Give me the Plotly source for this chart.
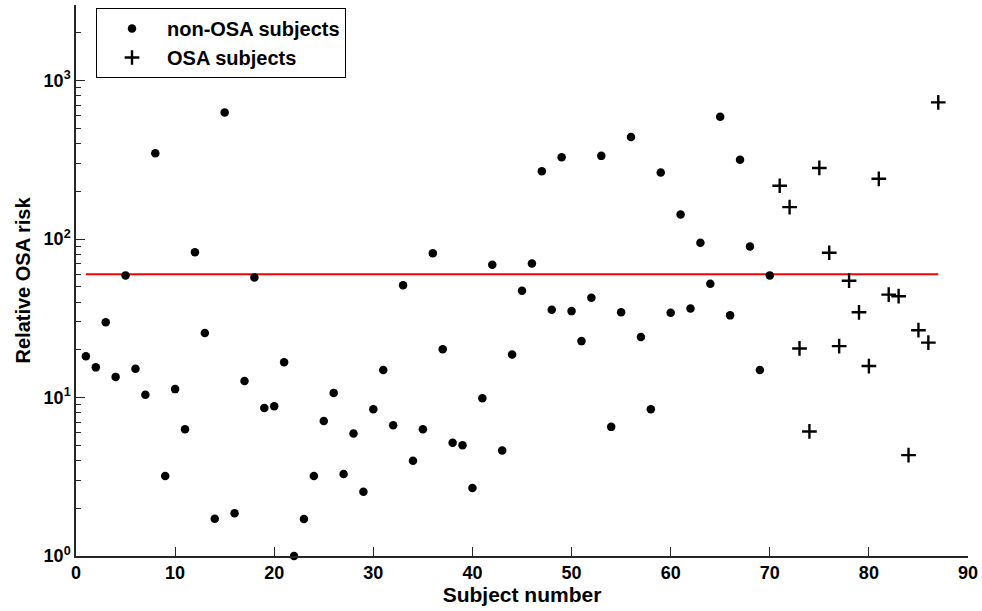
import plotly.graph_objects as go
import numpy as np

# ---- data ----
non_osa_subject = list(range(1, 71))
non_osa_risk = [18.2, 15.5, 29.9, 13.5, 59.0, 15.2, 10.4, 348, 3.2, 11.3,
                6.3, 82.7, 25.5, 1.72, 630, 1.86, 12.7, 57.3, 8.6, 8.8,
                16.7, 1.0, 1.71, 3.2, 7.1, 10.7, 3.29, 5.93, 2.54, 8.44,
                14.9, 6.69, 51.2, 3.99, 6.31, 81.5, 20.2, 5.18, 5.0, 2.69,
                9.9, 68.9, 4.63, 18.7, 47.2, 70.2, 268, 35.8, 328, 35.1,
                22.7, 42.7, 335, 6.53, 34.5, 441, 24.1, 8.44, 263, 34.3,
                143, 36.5, 94.8, 52.3, 592, 33.0, 317, 89.8, 14.9, 59.0]
osa_subject = list(range(71, 88))
osa_risk = [217, 159, 20.4, 6.11, 281, 82, 21.1, 54.6, 34.5, 15.8,
            240, 44.6, 43.6, 4.33, 26.6, 22.2, 729]
threshold_x = [1, 87]
threshold_y = [60, 60]

x_ticks = [0, 10, 20, 30, 40, 50, 60, 70, 80, 90]
y_ticks = [1, 10, 100, 1000]
y_ticktext = ["10<sup>0</sup>", "10<sup>1</sup>", "10<sup>2</sup>", "10<sup>3</sup>"]
y_minor = [m * d for d in (1, 10, 100) for m in range(2, 10)] + [2000, 3000]

FONT = "Arial, 'Liberation Sans', sans-serif"
AXC = "#262626"

fig = go.Figure()
fig.add_trace(go.Scatter(x=threshold_x, y=threshold_y, mode="lines",
                         line=dict(color="#ff0000", width=2.2),
                         showlegend=False, hoverinfo="skip"))
fig.add_trace(go.Scatter(x=non_osa_subject, y=non_osa_risk, mode="markers",
                         name="non-OSA subjects", cliponaxis=False,
                         marker=dict(symbol="circle", size=8.5, color="black")))
fig.add_trace(go.Scatter(x=osa_subject, y=osa_risk, mode="markers",
                         name="OSA subjects", cliponaxis=False,
                         marker=dict(symbol="cross-thin", size=10.5,
                                     line=dict(color="black", width=2.4))))

fig.update_layout(
    width=982, height=611,
    margin=dict(l=76, r=14, t=5, b=55),
    paper_bgcolor="white", plot_bgcolor="white",
    font=dict(family=FONT, size=18, color="black", weight="bold"),
    showlegend=True,
    legend=dict(x=(96 - 76) / 892, y=1 - (8 - 5) / 551, xanchor="left", yanchor="top",
                bordercolor="black", borderwidth=1, bgcolor="white",
                font=dict(family=FONT, size=20, color="black", weight="bold"),
                itemwidth=60, tracegroupgap=0),
    xaxis=dict(range=[0, 90], tickvals=x_ticks, ticks="inside", ticklen=9,
               tickwidth=1.2, tickcolor=AXC, showline=True, linecolor=AXC,
               linewidth=1.5, showgrid=False, zeroline=False,
               tickfont=dict(family=FONT, size=18, weight="bold"),
               title=dict(text="Subject number", standoff=4,
                          font=dict(family=FONT, size=21, weight="bold"))),
    yaxis=dict(type="log", range=[0, np.log10(3000)], tickvals=y_ticks,
               ticktext=y_ticktext, ticks="inside", ticklen=9, tickwidth=1.2,
               tickcolor=AXC, showline=True, linecolor=AXC, linewidth=1.5,
               showgrid=False, zeroline=False,
               minor=dict(tickvals=y_minor, ticks="inside", ticklen=5,
                          tickwidth=1.2, tickcolor=AXC, showgrid=False),
               tickfont=dict(family=FONT, size=18, weight="bold"),
               title=dict(text="Relative OSA risk", standoff=8,
                          font=dict(family=FONT, size=20, weight="bold"))),
)

fig.write_html("out.html")
